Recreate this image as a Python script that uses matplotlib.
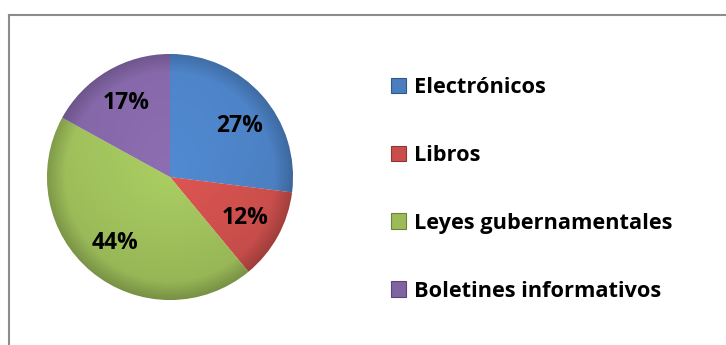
import numpy as np
import matplotlib
matplotlib.use("Agg")
import matplotlib.pyplot as plt
from matplotlib.patches import Patch
from matplotlib.lines import Line2D
from matplotlib.colors import to_rgb

# Data
categories = ["Electrónicos", "Libros", "Leyes gubernamentales", "Boletines informativos"]
shares = [27, 12, 44, 17]
colors = ["#4A7EBF", "#C94E4B", "#9BBB59", "#8064A2"]

plt.rcParams["font.family"] = ["Open Sans", "DejaVu Sans"]
plt.rcParams["font.weight"] = "bold"

W, H = 726, 345
fig = plt.figure(figsize=(W / 100, H / 100), dpi=100)
fig.patch.set_facecolor("white")

# Pie axes: centre (170, 177) px, radius 123 px
cx, cy, r = 170, 177, 123
ax = fig.add_axes([(cx - r) / W, (H - cy - r) / H, 2 * r / W, 2 * r / H])

wedges, texts, autotexts = ax.pie(
    shares, colors=colors, startangle=90, counterclock=False, radius=1.0,
    autopct="%1.0f%%", pctdistance=0.70,
    wedgeprops=dict(linewidth=0.6, edgecolor="white"),
    textprops=dict(fontsize=16.5, fontweight="bold", color="black"),
)
# The first label sits a little lower inside its wedge
x0, y0 = autotexts[0].get_position()
ang = np.deg2rad(36)
rad = np.hypot(x0, y0)
autotexts[0].set_position((rad * np.cos(ang), rad * np.sin(ang)))

# Soft shading: lighter toward the centre, darker near the rim
n = 400
xs = np.linspace(-1, 1, n)
X, Y = np.meshgrid(xs, xs)
R = np.sqrt(X ** 2 + Y ** 2)
for w, c in zip(wedges, colors):
    base = np.array(to_rgb(c))
    shade = 1.0 + 0.10 * (1 - R) - 0.18 * np.clip((R - 0.85) / 0.15, 0, 1) + 0.05 * Y
    img = np.clip(base[None, None, :] * shade[..., None], 0, 1)
    im = ax.imshow(img, extent=(-1, 1, -1, 1), origin="lower", zorder=1.5,
                   interpolation="bilinear")
    im.set_clip_path(w)
for t in autotexts:
    t.set_zorder(3)
ax.set_xlim(-1, 1)
ax.set_ylim(-1, 1)
ax.set_aspect("equal")
ax.axis("off")

# Legend
handles = [Patch(facecolor=c, edgecolor=tuple(np.array(to_rgb(c)) * 0.7), linewidth=0.8)
           for c in colors]
leg = fig.legend(handles, categories, loc="upper left",
                 bbox_to_anchor=(391 / W, (H - 77) / H),
                 frameon=False, fontsize=15.7, handlelength=0.7, handleheight=0.7,
                 handletextpad=0.35, labelspacing=2.15, borderpad=0, borderaxespad=0)
for t in leg.get_texts():
    t.set_fontweight("bold")

# Chart frame
frame_color = "#8c8c8c"
fig.add_artist(Line2D([8.5 / W, 8.5 / W], [0, (H - 14.5) / H], color=frame_color,
                      linewidth=1.5, transform=fig.transFigure))
fig.add_artist(Line2D([8.5 / W, 1], [(H - 14.5) / H, (H - 14.5) / H], color=frame_color,
                      linewidth=1.5, transform=fig.transFigure))

fig.savefig("out.png", dpi=100, facecolor="white")
